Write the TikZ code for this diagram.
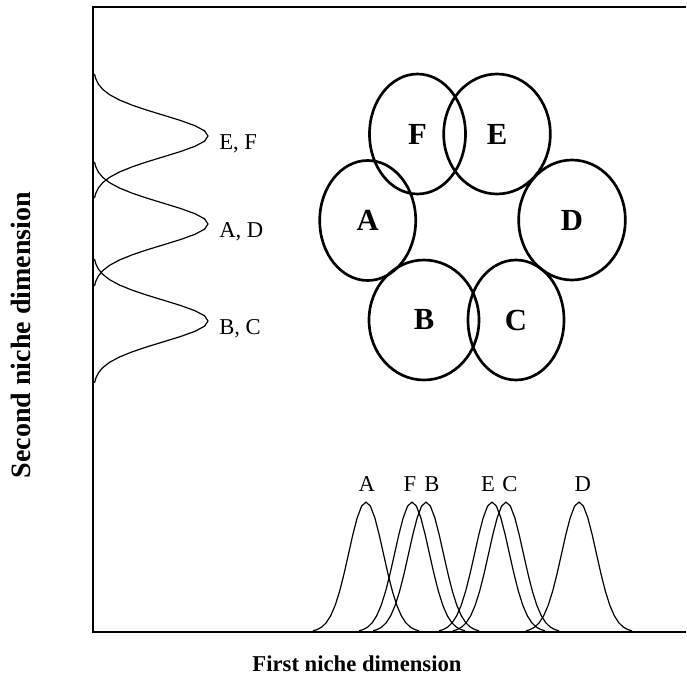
\documentclass[tikz,border=0pt]{standalone}
\usepackage{fontspec}
\setmainfont{Liberation Serif}
\usetikzlibrary{shapes.geometric}

\begin{document}
\begin{tikzpicture}[x=0.75pt, y=-0.75pt,
  niche/.style={draw, ellipse, line width=2pt, inner sep=0pt, minimum height=90pt, font=\fontsize{23}{23}\selectfont\bfseries},
  curve/.style={line width=0.9pt, line join=round},
  lbl/.style={font=\fontsize{17}{17}\selectfont, inner sep=0pt},
  axistitle/.style={font=\fontsize{17}{17}\selectfont\bfseries},
]
  \useasboundingbox (0,0) rectangle (686,699);

  % Frame
  \coordinate (tl) at (93,7);
  \coordinate (tr) at (686,7);
  \coordinate (bl) at (93,632);
  \coordinate (br) at (686,632);
  \draw[line width=2.2pt] (tr) -- (tl) -- (bl) -- (br);

  % Niche ellipses
  \node[niche, minimum width=72pt] (F) at (417.5,134) {F};
  \node[niche, minimum width=80pt] (E) at (497,134) {E};
  \node[niche, minimum width=72pt] (A) at (367.7,220.5) {A};
  \node[niche, minimum width=80pt] (D) at (572,220) {D};
  \node[niche, minimum width=82.5pt] (B) at (424,320) {B};
  \node[niche, minimum width=72pt] (C) at (516,320) {C};

  % Second dimension - curves along the left axis
  \foreach \p/\t [count=\i] in {136/{E, F}, 224/{A, D}, 321/{B, C}} {
    \pgfmathsetmacro\lo{\p-62}
    \pgfmathsetmacro\hi{\p+62}
    \draw[curve] plot[domain=\lo:\hi, samples=25] ({93+115*exp(-((\x-\p)^2)/882)}, \x);
    \node[lbl, anchor=base west] (left\i) at (219,\p+13) {\t};
  }

  % First dimension - curves along the bottom axis
  \foreach \p in {366, 412, 426, 492, 506, 579} {
    \pgfmathsetmacro\lo{\p-53}
    \pgfmathsetmacro\hi{\p+53}
    \draw[curve] plot[domain=\lo:\hi, samples=25] (\x, {632-130*exp(-((\x-\p)^2)/600)});
  }
  \node[lbl, anchor=base] (botA) at (366.7,491) {A};
  \node[lbl, anchor=base] (botF) at (410,491) {F};
  \node[lbl, anchor=base] (botB) at (432,491) {B};
  \node[lbl, anchor=base] (botE) at (488,491) {E};
  \node[lbl, anchor=base] (botC) at (510,491) {C};
  \node[lbl, anchor=base] (botD) at (582.7,491) {D};

  % Axis titles
  \node[axistitle] (xtitle) at (357,664) {First niche dimension};
  \node[axistitle, rotate=90, font=\fontsize{21}{21}\selectfont\bfseries] (ytitle) at (21,335) {Second niche dimension};
\end{tikzpicture}
\end{document}
